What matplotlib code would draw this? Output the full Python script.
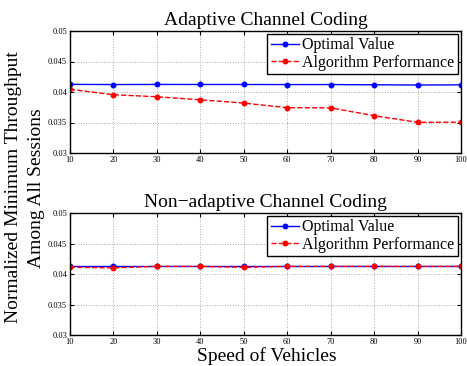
import matplotlib

matplotlib.use("Agg")
import matplotlib.pyplot as plt

plt.rcParams["font.family"] = ["Liberation Serif", "DejaVu Serif"]

speeds = [10, 20, 30, 40, 50, 60, 70, 80, 90, 100]

adaptive_optimal = [0.04125, 0.04122, 0.04124, 0.04123, 0.04123, 0.04122, 0.04122, 0.04118, 0.04115, 0.04117]
adaptive_algo = [0.04045, 0.03955, 0.03922, 0.03872, 0.03818, 0.03743, 0.03740, 0.03612, 0.03503, 0.03505]

nonadaptive_optimal = [0.04125, 0.04125, 0.04125, 0.04125, 0.04125, 0.04125, 0.04125, 0.04125, 0.04125, 0.04125]
nonadaptive_algo = [0.04112, 0.04100, 0.04125, 0.04125, 0.04110, 0.04125, 0.04125, 0.04125, 0.04125, 0.04125]

panels = [
    ("Adaptive Channel Coding", adaptive_optimal, adaptive_algo),
    ("Non\u2212adaptive Channel Coding", nonadaptive_optimal, nonadaptive_algo),
]

fig = plt.figure(figsize=(4.67, 3.66), dpi=100)
axes_boxes = [
    [70 / 467, 1 - 153 / 366, 391 / 467, 122 / 366],
    [70 / 467, 1 - 335 / 366, 391 / 467, 122 / 366],
]

for box, (title, optimal, algo) in zip(axes_boxes, panels):
    ax = fig.add_axes(box)
    ax.plot(speeds, optimal, "b.-", lw=1.0, ms=6.5, label="Optimal Value")
    ax.plot(speeds, algo, "r.--", lw=1.0, ms=6.5, label="Algorithm Performance")
    ax.set_xlim(10, 100)
    ax.set_ylim(0.03, 0.05)
    ax.set_xticks(speeds)
    ax.set_yticks([0.03, 0.035, 0.04, 0.045, 0.05])
    ax.set_yticklabels(["0.03", "0.035", "0.04", "0.045", "0.05"])
    ax.tick_params(labelsize=6, direction="in", length=3, pad=2, top=True, right=True)
    ax.grid(True, linestyle=":", color="#aaaaaa", lw=0.7)
    ax.set_title(title, fontsize=14, pad=4)
    for spine in ax.spines.values():
        spine.set_linewidth(1.0)
    leg = ax.legend(loc="upper right", fontsize=11.5, fancybox=False, framealpha=1,
                    edgecolor="black", borderpad=0.2, labelspacing=0.1,
                    handlelength=1.8, handletextpad=0.2, borderaxespad=0.2)
    leg.get_frame().set_linewidth(1.0)

# two-line y label, each line placed on its own
fig.text(14 / 467, 1 - 187 / 366, "Normalized Minimum Throughput",
         rotation=90, ha="center", va="center", fontsize=14)
fig.text(37 / 467, 1 - 188 / 366, "Among All Sessions",
         rotation=90, ha="center", va="center", fontsize=14)
fig.text(0.5 + 33 / 467, 1 / 366, "Speed of Vehicles", ha="center", va="bottom", fontsize=14)

fig.savefig("out.png", dpi=100)
